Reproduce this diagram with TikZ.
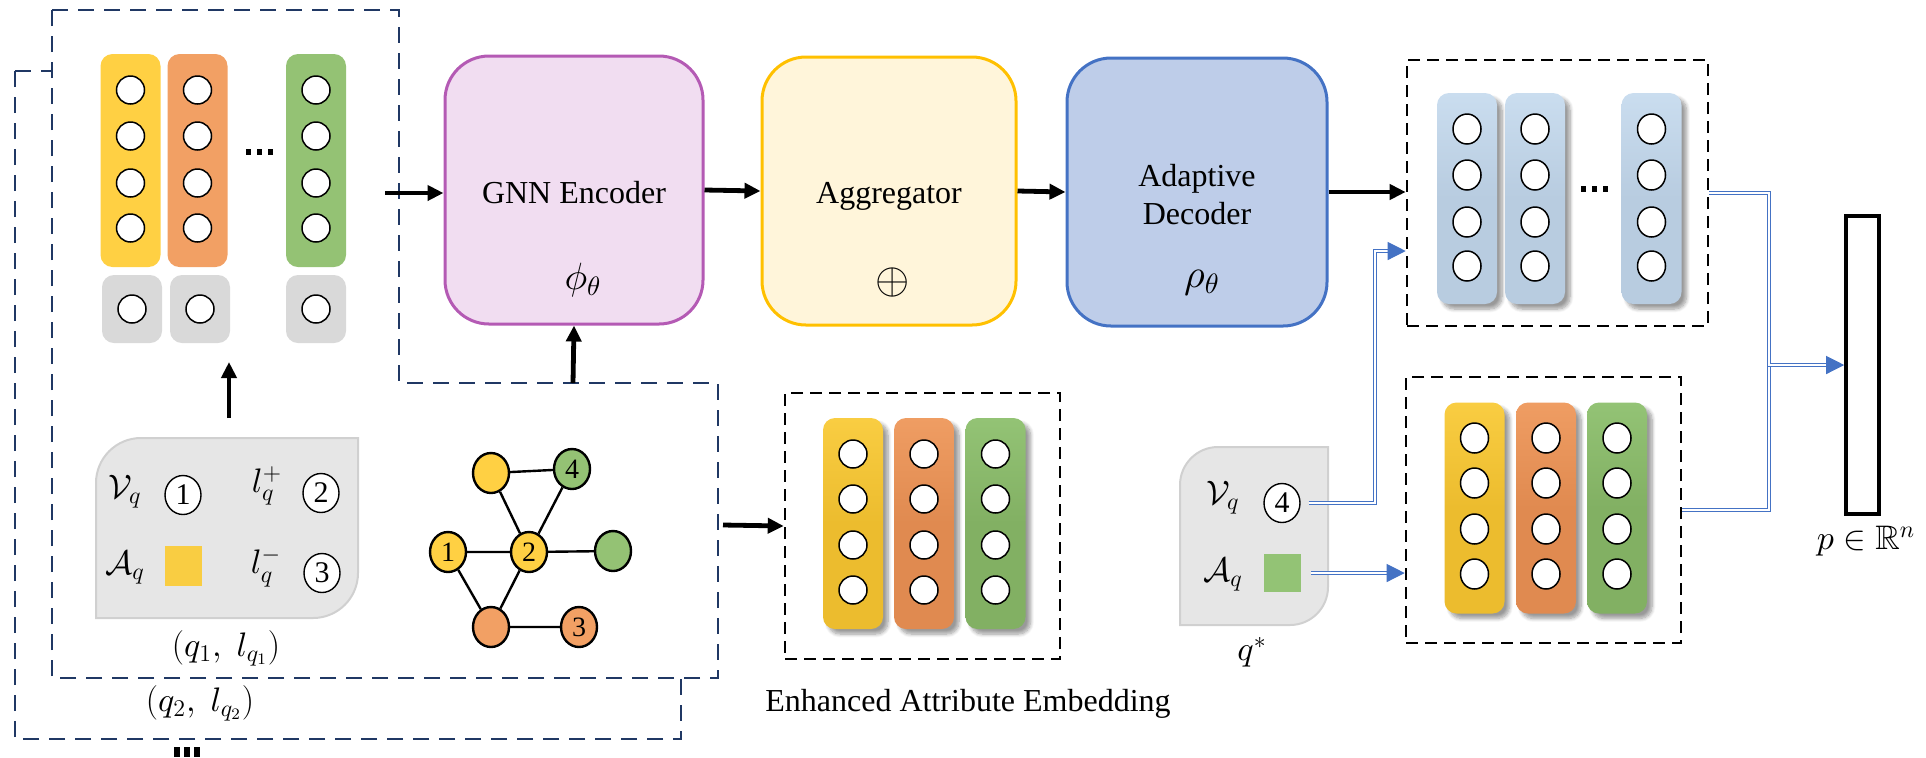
\documentclass[tikz,border=0pt]{standalone}
\usepackage{amsmath,amssymb}
\usepackage{fontspec}
\setmainfont{Liberation Serif}
\usetikzlibrary{arrows.meta,shapes.geometric,shadows.blur,calc}
% scalable math fonts at any size
\DeclareFontShape{OML}{cmm}{m}{it}{<-6>cmmi5<6-8>cmmi7<8->cmmi10}{}
\DeclareFontShape{OMS}{cmsy}{m}{n}{<-6>cmsy5<6-8>cmsy7<8->cmsy10}{}
\DeclareFontFamily{U}{msb}{}
\DeclareFontShape{U}{msb}{m}{n}{<-6>msbm5<6-8>msbm7<8->msbm10}{}

% palette
\definecolor{cyel}{HTML}{FFD043}
\definecolor{cora}{HTML}{F2A064}
\definecolor{cgrn}{HTML}{94C274}
\definecolor{cgray}{HTML}{D9D9D9}
\definecolor{qgray}{HTML}{E6E6E6}
\definecolor{qline}{HTML}{D0D0D0}
\definecolor{navy}{HTML}{203864}
\definecolor{gnnfill}{HTML}{F1DDF1}
\definecolor{gnnline}{HTML}{B45AB4}
\definecolor{aggfill}{HTML}{FFF5DA}
\definecolor{aggline}{HTML}{FFC000}
\definecolor{decfill}{HTML}{BECDE9}
\definecolor{dblue}{HTML}{4472C4}
\definecolor{syelA}{HTML}{F9CD42}
\definecolor{syelB}{HTML}{ECBC2E}
\definecolor{soraA}{HTML}{EF9D63}
\definecolor{soraB}{HTML}{E08A50}
\definecolor{sgrnA}{HTML}{93C375}
\definecolor{sgrnB}{HTML}{82B063}
\definecolor{sbluA}{HTML}{CADDEF}
\definecolor{sbluB}{HTML}{B8CCE0}

\tikzset{
  lbl/.style={font=\fontsize{16}{19}\selectfont, inner sep=0pt},
  mlbl/.style={font=\fontsize{17}{20}\selectfont, inner sep=0pt},
  blbl/.style={font=\fontsize{19}{21}\selectfont, inner sep=0pt},
  dot/.style={circle, draw, line width=0.75pt, fill=white, minimum size=14pt, inner sep=0pt},
  edot/.style={ellipse, draw, line width=0.75pt, fill=white, minimum width=14pt, minimum height=15pt, inner sep=0pt},
  flatcol/.style={rounded corners=6pt, minimum width=30pt, minimum height=106.5pt, inner sep=0pt},
  graybox/.style={rounded corners=6pt, fill=cgray, minimum width=30pt, minimum height=34pt, inner sep=0pt},
  shcol/.style={rounded corners=6pt, minimum width=30pt, minimum height=105.5pt, inner sep=0pt,
    blur shadow={shadow xshift=2.5pt, shadow yshift=-2.5pt, shadow blur steps=8, shadow opacity=40}},
  navyframe/.style={draw=navy, line width=1.4pt, dash pattern=on 8pt off 5pt},
  blkframe/.style={draw=black, line width=1.3pt, dash pattern=on 6pt off 3.5pt, inner sep=0pt},
  block/.style={rounded corners=22pt, line width=1.5pt, minimum height=134pt, inner sep=0pt},
  barrow/.style={line width=2.4pt, -{Triangle[length=8pt,width=7.5pt]}},
  dbl/.style={draw=dblue, line width=0.6pt, double=white, double distance=1.1pt},
  btip/.style={draw=dblue, fill=dblue, line width=0.6pt, -{Triangle[length=9pt,width=9pt]}},
  gnode/.style={ellipse, draw, line width=1.2pt, minimum width=18pt, minimum height=20pt, inner sep=0pt,
    font=\fontsize{14}{14}\selectfont},
  qnum/.style={ellipse, draw, line width=0.7pt, fill=white, minimum width=18pt, minimum height=19.5pt,
    inner sep=0pt, font=\fontsize{15}{15}\selectfont},
  qshape/.style={fill=qgray, draw=qline, line width=1pt},
}

\begin{document}
\begin{tikzpicture}[x=0.5pt, y=-0.5pt]
\useasboundingbox (0,0) rectangle (1926,757);

% ---------- stacked query frames ----------
\draw[navyframe] (15,71) -- (362,71) -- (362,444) -- (681,444) -- (681,739) -- (15,739) -- cycle;
\draw[navyframe, fill=white] (52,10) -- (399,10) -- (399,383) -- (718,383) -- (718,678) -- (52,678) -- cycle;
\fill (174,747) rectangle (180,757);
\fill (184,747) rectangle (190,757);
\fill (194,747) rectangle (200,757);

% ---------- input vectors (top left) ----------
\foreach \nm/\cx/\cc in {ya/130.5/cyel, ob/197.5/cora, gc/316/cgrn}{
  \node[flatcol, fill=\cc] (in-\nm) at (\cx,160.5) {};
  \foreach \cy [count=\k] in {90,136,183,228}
    \node[dot] (in-\nm-\k) at (\cx,\cy) {};
}
\foreach \nm/\cx in {ya/132, ob/200, gc/316}{
  \node[graybox] (lab-\nm) at (\cx,309) {};
  \node[dot] (lab-\nm-c) at (\cx,309) {};
}
\fill (246,149) rectangle (251,155);
\fill (257,149) rectangle (262,155);
\fill (268,149) rectangle (273,155);

% ---------- query (q_1, l_{q_1}) ----------
\draw[qshape] (96,618) -- (96,483) arc[start angle=180, end angle=270, radius=45]
  -- (358,438) -- (358,573) arc[start angle=0, end angle=90, radius=45] -- cycle;
\node[mlbl] (q1-v) at (125,492) {$\mathcal{V}_q$};
\node[qnum] (q1-n1) at (183,495) {1};
\node[mlbl] (q1-lp) at (267,486) {$l_q^{+}$};
\node[qnum] (q1-n2) at (321,493) {2};
\node[mlbl] (q1-a) at (125,568) {$\mathcal{A}_q$};
\node[fill=syelA, minimum width=18.5pt, minimum height=20pt, inner sep=0pt] (q1-sq) at (183.5,566) {};
\node[mlbl] (q1-lm) at (266,567) {$l_q^{-}$};
\node[qnum] (q1-n3) at (322,573) {3};
\node[mlbl] (q1-t) at (226,648) {$(q_1,\;l_{q_1})$};
\node[mlbl] (q2-t) at (200,703) {$(q_2,\;l_{q_2})$};

% ---------- attributed graph ----------
\node[gnode, fill=cyel] (g-t) at (491,473) {};
\node[gnode, fill=cgrn] (g-4) at (572,469) {4};
\node[gnode, fill=cyel] (g-1) at (448,552) {1};
\node[gnode, fill=cyel] (g-2) at (529,552) {2};
\node[gnode, fill=cgrn] (g-r) at (613,551) {};
\node[gnode, fill=cora] (g-b) at (491,627) {};
\node[gnode, fill=cora] (g-3) at (579,627) {3};
\draw[line width=1.2pt] (g-t) -- (g-4) (g-t) -- (g-2) (g-4) -- (g-2) (g-1) -- (g-2)
  (g-2) -- (g-r) (g-1) -- (g-b) (g-2) -- (g-b) (g-b) -- (g-3);

% ---------- encoder / aggregator / decoder ----------
\node[block, fill=gnnfill, draw=gnnline, minimum width=129pt] (gnn) at (574,190) {};
\node[block, fill=aggfill, draw=aggline, minimum width=127pt] (agg) at (889,191) {};
\node[block, fill=decfill, draw=dblue, minimum width=130pt] (dec) at (1197,192) {};
\node[lbl, anchor=base] (gnn-t) at (574,203) {GNN Encoder};
\node[blbl] (gnn-m) at (583,280) {$\phi_\theta$};
\node[lbl, anchor=base] (agg-t) at (889,203) {Aggregator};
\node[font=\fontsize{22}{22}\selectfont, inner sep=0pt] (agg-m) at (893,282) {$\oplus$};
\node[lbl, align=center] (dec-t) at (1197,195) {Adaptive\\Decoder};
\node[font=\fontsize{20}{22}\selectfont, inner sep=0pt] (dec-m) at (1202,283) {$\rho_\theta$};

% ---------- enhanced attribute embedding ----------
\node[blkframe, minimum width=137.5pt, minimum height=133pt] (enh) at (922.5,526) {};
\foreach \nm/\cx/\ca/\cb in {ya/853/syelA/syelB, ob/924/soraA/soraB, gc/995.5/sgrnA/sgrnB}{
  \node[shcol, top color=\ca, bottom color=\cb, middle color=\cb] (enh-\nm) at (\cx,523.5) {};
  \foreach \cy [count=\k] in {454,499,545,590}
    \node[dot] (enh-\nm-\k) at (\cx,\cy) {};
}
\node[lbl, anchor=base] (enh-t) at (968,711) {Enhanced Attribute Embedding};

% ---------- decoded representations ----------
\node[blkframe, minimum width=150.5pt, minimum height=133pt] (outT) at (1557.5,193) {};
\foreach \nm/\cx in {a/1467, b/1535, c/1651.5}{
  \node[shcol, top color=sbluA, bottom color=sbluB, middle color=sbluB] (dt-\nm) at (\cx,198.5) {};
  \foreach \cy [count=\k] in {129,175,222,266}
    \node[edot] (dt-\nm-\k) at (\cx,\cy) {};
}
\fill (1581,186) rectangle (1586,192);
\fill (1592,186) rectangle (1597,192);
\fill (1603,186) rectangle (1608,192);

\node[blkframe, minimum width=137.5pt, minimum height=133pt] (outB) at (1543.5,510) {};
\foreach \nm/\cx/\ca/\cb in {ya/1474.5/syelA/syelB, ob/1546/soraA/soraB, gc/1617/sgrnA/sgrnB}{
  \node[shcol, top color=\ca, bottom color=\cb, middle color=\cb] (db-\nm) at (\cx,508) {};
  \foreach \cy [count=\k] in {438,483,529,574}
    \node[edot] (db-\nm-\k) at (\cx,\cy) {};
}

% ---------- target query q* ----------
\draw[qshape] (1180,625) -- (1180,485) arc[start angle=180, end angle=270, radius=38]
  -- (1328,447) -- (1328,587) arc[start angle=0, end angle=90, radius=38] -- cycle;
\node[mlbl] (qs-v) at (1223,498) {$\mathcal{V}_q$};
\node[qnum] (qs-n4) at (1282,503) {4};
\node[mlbl] (qs-a) at (1223,575) {$\mathcal{A}_q$};
\node[fill=sgrnA, minimum width=18.5pt, minimum height=19pt, inner sep=0pt] (qs-sq) at (1282.5,573) {};
\node[mlbl] (qs-t) at (1252,652) {$q^{*}$};

% ---------- prediction vector ----------
\node[draw, line width=1.8pt, minimum width=16.5pt, minimum height=149pt, inner sep=0pt] (pv) at (1862.5,365) {};
\node[mlbl] (pv-t) at (1866,541) {$p \in \mathbb{R}^{n}$};

% ---------- black connectors ----------
\coordinate (fr-r) at (385,193);
\coordinate (fr-up) at (573,383);
\coordinate (fr-dn) at (723,525);
\coordinate (q1-top) at (229,418);
\coordinate (lab-in) at (229,362);
\draw[barrow] (fr-r) -- (gnn.west |- fr-r);
\draw[barrow] (gnn.east) -- (agg.west);
\draw[barrow] (agg.east) -- (dec.west);
\draw[barrow] (dec.east) -- (outT.west |- dec.east);
\draw[barrow] (fr-up) -- (gnn.south);
\draw[barrow] (q1-top) -- (lab-in);
\draw[barrow] (fr-dn) -- (enh.west);

% ---------- blue double connectors ----------
\coordinate (j1) at (1375,251);
\coordinate (j2) at (1769,365);
\coordinate (tipA) at ($(outT.west |- j1)+(-18,0)$);
\draw[dbl] ([xshift=4pt]qs-n4.east) -| (j1) -- (tipA);
\draw[btip] (tipA) -- (outT.west |- j1);
\coordinate (tipB) at ($(outB.west |- qs-sq)+(-18,0)$);
\draw[dbl] ([xshift=5pt]qs-sq.east) -- (tipB);
\draw[btip] (tipB) -- (outB.west |- qs-sq);
\coordinate (tipC) at ($(pv.west)+(-18,0)$);
\draw[dbl] (outB.east) -| (j2);
\draw[dbl] (outT.east) -| (j2) -- (tipC);
\draw[btip] (tipC) -- (pv.west);
\end{tikzpicture}
\end{document}
